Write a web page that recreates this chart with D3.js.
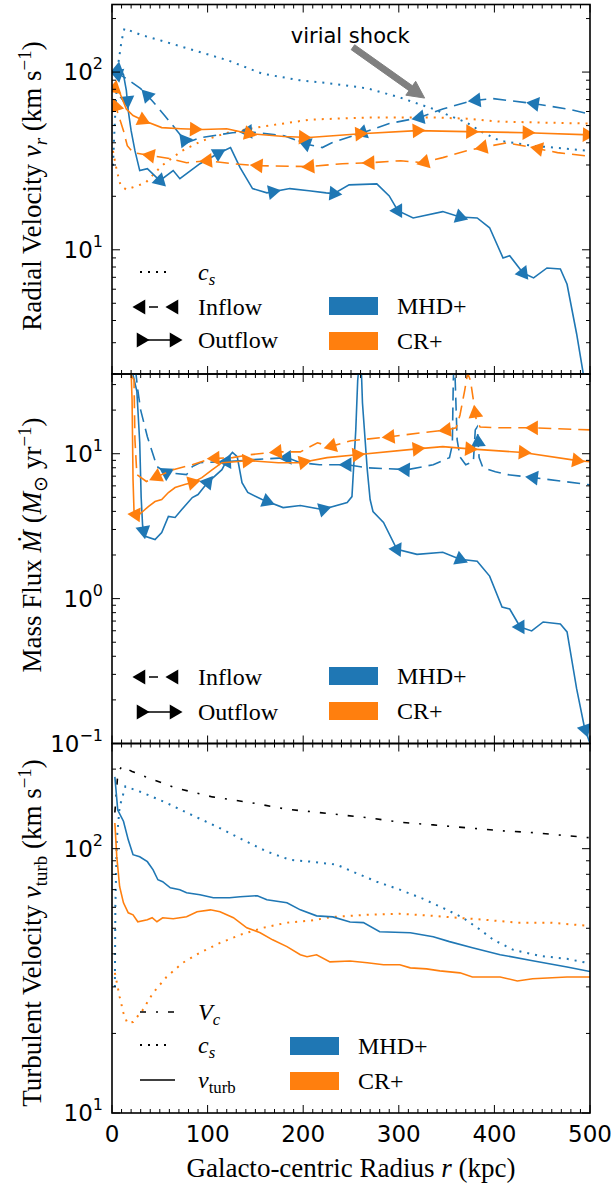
<!DOCTYPE html>
<html><head><meta charset="utf-8">
<script src="https://cdn.jsdelivr.net/npm/d3@7"></script>
<style>body{margin:0;background:#fff}</style>
</head><body><svg id="c" width="616" height="1186" xmlns="http://www.w3.org/2000/svg"></svg>
<script>
// ---------------- DATA ----------------
const X_DOMAIN = [0, 500];
const xTickValues = [0, 100, 200, 300, 400, 500];

// Panel 1: radial velocity (km/s)
const p1_cs_mhd = [[1,29.7],[3,53],[6,106],[10,150],[13,176],[30,162],[52,150],[87,132],[122,116],[157,98],[196,90],[231,86],[267,81],[301,72],[336,62],[371,52],[387,46],[406,41],[440,38.5],[476,37],[500,36]];
const p1_cs_cr = [[1,36],[5,27.9],[9,23],[15,21.8],[35,23.8],[52,29.7],[73,36],[94,41],[121,45.6],[157,49.3],[207,54],[267,55.5],[336,55.5],[371,54.7],[406,52.6],[500,51.3]];
const p1_in_mhd = [[2,99],[10,95.5],[18,89.6],[30,80.7],[42,69],[55,57],[68,46.8],[78,40],[92,42.7],[126,45.6],[142,46.2],[180,43.8],[206,39],[220,37.6],[230,40],[262,45.6],[290,51.3],[322,55.5],[346,62],[377,69],[398,71],[440,66.6],[480,61.5],[500,58]];
const p1_out_mhd = [[3,106],[12,96.8],[15,78.8],[17,60.7],[20,46.8],[24,36.1],[29,27.9],[37,28.6],[50,24.5],[64,27.9],[71,25.1],[92,30.5],[111,34.8],[124,37.6],[134,29],[147,22.1],[162,20.9],[186,22.1],[206,21.5],[224,20.9],[232,20.7],[248,23.2],[277,23.5],[290,20.1],[299,16.6],[315,15.1],[346,16.4],[364,15.3],[382,15.1],[395,13.3],[409,9.0],[416,9.25],[430,7.4],[441,6.95],[455,7.9],[469,7.8],[476,6.4],[486,3.37],[493,2.0],[496,1.7]];
const p1_in_cr = [[2,69],[6,59],[12,46.8],[16,38.5],[22,35.2],[40,33.9],[60,32.6],[78,30.9],[100,31.7],[126,30.5],[155,29.7],[206,29.4],[241,30.5],[270,30.9],[302,31.7],[325,30.9],[346,33],[371,36.1],[387,37.6],[413,40],[440,37.6],[466,35.2],[500,33.6]];
const p1_out_cr = [[2,81.8],[8,76.7],[15,62],[22,56.9],[33,53.4],[52,48.7],[72,48],[95,47.5],[120,48],[144,45],[180,43.4],[206,42.8],[260,45],[319,46.8],[371,46.2],[434,45.6],[500,44.3]];
const p1_mk_out_mhd = [6, 16, 50, 111, 168, 232, 299, 364, 430];
const p1_mk_in_mhd = [6, 37, 76, 142, 203, 262, 322, 381, 442];
const p1_mk_out_cr = [3, 32, 86, 143, 200, 259, 319, 375, 434, 497];
const p1_mk_in_cr = [4, 40, 100, 153, 207, 270, 327, 388, 446];

// Panel 2: mass flux (Msun/yr)
const p2_out_mhd = [[0,60],[20,45],[22,35],[26,27],[29,12],[30.5,5],[32,3.2],[34,2.7],[45,2.56],[52,2.86],[59,3.69],[66,3.63],[73,4.12],[84,4.98],[90,5.23],[100,6.32],[115,7.76],[122,9.53],[126,10.2],[131,9.53],[136,6.32],[142,5.4],[157,4.83],[179,4.25],[197,4.39],[220,4.12],[246,4.61],[251,5.06],[255,14.6],[257,32],[259,45],[261,34.9],[262,22.4],[267,7.76],[270,4.83],[273,3.99],[284,3.36],[298,2.19],[319,2.02],[346,2.09],[364,1.87],[382,1.81],[395,1.43],[408,0.875],[416,0.848],[427,0.637],[439,0.598],[451,0.69],[469,0.668],[476,0.589],[486,0.239],[494,0.131],[500,0.1]];
const p2_in_mhd = [[0,60],[20,50],[25,36],[27,27.5],[30,20],[37,13.1],[47,8.15],[57,7.4],[78,7.17],[84,8.15],[92,8.67],[120,8.81],[148,9.1],[183,9.4],[197,8.67],[217,8.4],[246,8.4],[267,8.0],[309,7.76],[336,8.4],[353,9.4],[356,11.5],[357,32],[358,45],[359,32],[361,12.5],[364,9.5],[370,8.4],[378,8.81],[380,14.6],[382,15.3],[384,9.4],[388,8.0],[401,7.52],[414,7.17],[441,6.84],[500,6.1]];
const p2_out_cr = [[0,60],[19,45],[20,36.6],[21,23.5],[22,6.63],[23,4.05],[26,3.69],[31,3.93],[38,4.32],[45,4.68],[52,4.83],[59,5.4],[66,5.84],[76,6.13],[84,6.32],[94,6.84],[105,7.76],[115,8.67],[129,8.81],[142,8.96],[174,8.67],[197,8.67],[225,9.4],[256,9.84],[319,10.8],[346,11.2],[374,10.8],[430,10.2],[487,8.96],[500,8.81]];
const p2_in_cr = [[0,60],[10,45],[23,32.3],[24,12.5],[26,7.17],[36,6.43],[47,6.95],[64,7.76],[84,8.4],[103,9.25],[126,9.4],[144,9.84],[173,10.3],[197,10.3],[215,11.9],[228,11.2],[250,12.3],[291,13.1],[322,13.9],[350,14.6],[360,15.1],[364,18.5],[369,27.5],[372,36],[375,32],[378,23.5],[381,17.1],[385,15.3],[406,15.1],[441,15.1],[500,14.6]];
const p2_mk_out_mhd = [33, 100, 162, 221, 260, 298, 364, 427, 495];
const p2_mk_in_mhd = [57, 120, 183, 246, 307, 383, 441];
const p2_mk_out_cr = [25, 84, 141, 200, 256, 319, 374, 430, 486];
const p2_mk_in_cr = [47, 108, 173, 230, 291, 350, 380, 441];

// Panel 3: turbulent velocity (km/s)
const p3_vc = [[3,137],[6,191],[10,205],[21,196],[35,187],[66,170],[105,157],[147,149],[183,141],[217,137],[267,131],[301,126],[336,123],[371,120],[406,117],[440,115],[500,110]];
const p3_cs_mhd = [[3,30],[3.5,60],[5,108],[8,144],[14,172],[32,163],[57,149],[78,137],[110,121],[137,108],[162,97.5],[186,90.8],[208,89.3],[235,87],[252,81.8],[277,75],[301,70],[325,64.7],[350,58.8],[367,54.8],[385,49.4],[399,45.2],[420,41.4],[448,39.3],[476,38.3],[500,36.8]];
const p3_cs_cr = [[3,33.9],[8,27.5],[12,23.9],[16,21.9],[22,22.1],[32,24.5],[43,28.5],[57,32.7],[74,37],[92,40.4],[113,44],[134,47.2],[158,50.2],[183,52.5],[207,53.4],[231,55.2],[267,56.2],[301,56.7],[336,55.7],[361,54.8],[388,53.9],[424,52.5],[458,52.5],[500,51]];
const p3_vt_mhd = [[3,187],[6,140],[12,127],[17,108],[22,94.9],[29,93.2],[37,89.3],[43,83.2],[48,76.3],[53,75],[61,71.1],[71,69.9],[78,68.1],[92,66.9],[106,65.2],[123,65.2],[134,65.8],[152,66.4],[162,64.1],[183,62.4],[197,58.7],[214,55.7],[231,55.2],[249,52.8],[263,52.5],[280,48.5],[312,48.1],[336,46.4],[353,44.5],[377,42.2],[406,39.7],[440,37.7],[476,35.7],[500,34.3]];
const p3_vt_cr = [[3,125],[5,93.3],[8,71.8],[12,62.4],[17,57.2],[22,56.2],[27,52.9],[37,53.8],[42,54.8],[47,52.9],[53,54.8],[64,54.3],[78,55.3],[89,57.7],[103,58.7],[113,57.7],[127,54.8],[141,50.2],[155,48.1],[168,45.2],[183,42.6],[197,39.7],[204,39],[214,39.7],[228,37.3],[249,37.6],[267,37],[284,36.4],[301,36.4],[312,35.4],[329,35.1],[343,34.5],[364,33.9],[377,32.7],[406,32.7],[424,31.6],[440,32.2],[476,32.7],[500,32.7]];

// annotation (data coordinates of panel 1)
const shockText = {r: 187, v: 146, label: "virial shock"};
const shockArrow = {r0: 252, v0: 138, r1: 327, v1: 71.4};

// ---------------- LAYOUT ----------------
const C_MHD = "#1f77b4", C_CR = "#ff7f0e";
const SERIF = "'Liberation Serif', 'Times New Roman', serif";
const SANS = "'DejaVu Sans', sans-serif";
const svg = d3.select("#c");
const x = d3.scaleLinear().domain(X_DOMAIN).range([112, 590]);
const panels = [
  {top: 4.5, bot: 374, dom: [2, 240], ticks: [[10,"1"],[100,"2"]]},
  {top: 374, bot: 743.5, dom: [0.1, 35.5], ticks: [[0.1,"\u22121"],[1,"0"],[10,"1"]]},
  {top: 743.5, bot: 1113, dom: [10, 250], ticks: [[10,"1"],[100,"2"]]}
];
panels.forEach(p => { p.y = d3.scaleLog().domain(p.dom).range([p.bot, p.top]); });

const defs = svg.append("defs");
panels.forEach((p, i) => {
  defs.append("clipPath").attr("id", "clip" + i).append("rect")
    .attr("x", x(0)).attr("y", p.top).attr("width", x(500) - x(0)).attr("height", p.bot - p.top);
});

function rich(textSel, parts, size) {
  let off = 0;
  parts.forEach(pt => {
    let target = 0, fs = size;
    if (pt.sub) { target = 0.22 * size; fs = size * 0.7; }
    if (pt.sup) { target = -0.38 * size; fs = size * 0.7; }
    const ts = textSel.append("tspan").text(pt.t).attr("font-size", fs);
    if (target - off !== 0) ts.attr("dy", target - off);
    if (pt.i) ts.attr("font-style", "italic");
    off = target;
  });
}

function drawLine(g, p, data, color, dash, w) {
  const line = d3.line().x(d => x(d[0])).y(d => p.y(d[1]));
  g.append("path").attr("d", line(data)).attr("fill", "none")
    .attr("stroke", color).attr("stroke-width", w || 1.6)
    .attr("stroke-dasharray", dash || null);
}

const tri = d3.symbol().type(d3.symbolTriangle).size(95);
function drawMarkers(g, p, data, marks, color, dir) {
  marks.forEach(rm => {
    let i = 0;
    while (i < data.length - 2 && data[i + 1][0] < rm) i++;
    const a = data[i], b = data[i + 1];
    const x0 = x(a[0]), y0 = p.y(a[1]), x1 = x(b[0]), y1 = p.y(b[1]);
    const t = Math.max(0, Math.min(1, (rm - a[0]) / (b[0] - a[0])));
    const px = x0 + t * (x1 - x0), py = y0 + t * (y1 - y0);
    let ang = Math.atan2(y1 - y0, x1 - x0) * 180 / Math.PI;
    if (dir < 0) ang += 180;
    g.append("path").attr("d", tri()).attr("fill", color)
      .attr("transform", `translate(${px},${py}) rotate(${ang + 90})`);
  });
}

function legendMarker(g, cx, cy, dir) {
  g.append("path").attr("d", tri()).attr("fill", "#000")
    .attr("transform", `translate(${cx},${cy}) rotate(${dir > 0 ? 90 : -90})`);
}

const DASH = "13,7", DOT = "2,6", DASHDOT = "6,10,2,10";

// ---------------- PANELS ----------------
const series = [
  [
    [p1_cs_mhd, C_MHD, DOT, null, 0], [p1_cs_cr, C_CR, DOT, null, 0],
    [p1_in_mhd, C_MHD, DASH, p1_mk_in_mhd, -1], [p1_out_mhd, C_MHD, null, p1_mk_out_mhd, 1],
    [p1_in_cr, C_CR, DASH, p1_mk_in_cr, -1], [p1_out_cr, C_CR, null, p1_mk_out_cr, 1]
  ],
  [
    [p2_in_mhd, C_MHD, DASH, p2_mk_in_mhd, -1], [p2_out_mhd, C_MHD, null, p2_mk_out_mhd, 1],
    [p2_in_cr, C_CR, DASH, p2_mk_in_cr, -1], [p2_out_cr, C_CR, null, p2_mk_out_cr, 1]
  ],
  [
    [p3_vc, "#000", DASHDOT, null, 0],
    [p3_cs_mhd, C_MHD, DOT, null, 0], [p3_cs_cr, C_CR, DOT, null, 0],
    [p3_vt_mhd, C_MHD, null, null, 0], [p3_vt_cr, C_CR, null, null, 0]
  ]
];

panels.forEach((p, pi) => {
  const g = svg.append("g").attr("clip-path", `url(#clip${pi})`);
  series[pi].forEach(s => {
    drawLine(g, p, s[0], s[1], s[2], s[2] === DOT ? 2 : 1.6);
    if (s[3]) drawMarkers(g, p, s[0], s[3], s[1], s[4]);
  });

  // ticks
  const ax = svg.append("g").attr("stroke", "#000").attr("stroke-width", 1);
  for (let r = 0; r <= 500; r += 10) {
    const L = r % 100 === 0 ? 8 : 4, xx = x(r);
    ax.append("line").attr("x1", xx).attr("x2", xx).attr("y1", p.bot).attr("y2", p.bot - L);
    ax.append("line").attr("x1", xx).attr("x2", xx).attr("y1", p.top).attr("y2", p.top + L);
  }
  const e0 = Math.floor(Math.log10(p.dom[0])), e1 = Math.ceil(Math.log10(p.dom[1]));
  for (let e = e0; e <= e1; e++) {
    for (let m = 1; m <= 9; m++) {
      const v = m * Math.pow(10, e);
      if (v < p.dom[0] * 0.999 || v > p.dom[1] * 1.001) continue;
      const L = m === 1 ? 8 : 4, yy = p.y(v);
      ax.append("line").attr("x1", x(0)).attr("x2", x(0) + L).attr("y1", yy).attr("y2", yy);
      ax.append("line").attr("x1", x(500)).attr("x2", x(500) - L).attr("y1", yy).attr("y2", yy);
    }
  }
  // y tick labels
  p.ticks.forEach(([v, ex]) => {
    const t = svg.append("text").attr("x", 103).attr("y", p.y(v) + 8)
      .attr("text-anchor", "end").attr("font-family", SANS).attr("font-size", 23);
    t.append("tspan").text("10");
    t.append("tspan").text(ex).attr("font-size", 16).attr("dy", -11);
  });
  // frame
  svg.append("rect").attr("x", x(0)).attr("y", p.top).attr("width", x(500) - x(0))
    .attr("height", p.bot - p.top).attr("fill", "none").attr("stroke", "#000").attr("stroke-width", 1.6);
});

// x tick labels
xTickValues.forEach(v => {
  svg.append("text").attr("x", x(v)).attr("y", 1142).attr("text-anchor", "middle")
    .attr("font-family", SANS).attr("font-size", 23).text(v);
});
// x label
{
  const t = svg.append("text").attr("x", x(250)).attr("y", 1177).attr("text-anchor", "middle")
    .attr("font-family", SERIF).attr("font-size", 27);
  rich(t, [{t: "Galacto-centric Radius "}, {t: "r", i: 1}, {t: " (kpc)"}], 27);
}
// y labels
const yLabels = [
  [186, [{t: "Radial Velocity "}, {t: "v", i: 1}, {t: "r", i: 1, sub: 1}, {t: " (km s"}, {t: "\u22121", sup: 1}, {t: ")"}]],
  [545, [{t: "Mass Flux "}, {t: "\u1E40", i: 1}, {t: " ("}, {t: "M", i: 1}, {t: "\u2299", sub: 1}, {t: " yr"}, {t: "\u22121", sup: 1}, {t: ")"}]],
  [933, [{t: "Turbulent Velocity "}, {t: "v", i: 1}, {t: "turb", sub: 1}, {t: " (km s"}, {t: "\u22121", sup: 1}, {t: ")"}]]
];
yLabels.forEach(([cy, parts]) => {
  const t = svg.append("text").attr("transform", `translate(41,${cy}) rotate(-90)`)
    .attr("text-anchor", "middle").attr("font-family", SERIF).attr("font-size", 27);
  rich(t, parts, 27);
});

// ---------------- LEGENDS ----------------
const LX0 = 141, LX1 = 174, LTX = 198;
function legText(yb, parts) {
  const t = svg.append("text").attr("x", LTX).attr("y", yb).attr("font-family", SERIF).attr("font-size", 24);
  rich(t, parts, 24);
}
function flowLegend(yIn, yOut) {
  const g = svg.append("g");
  g.append("line").attr("x1", LX0).attr("x2", LX1).attr("y1", yIn).attr("y2", yIn)
    .attr("stroke", "#000").attr("stroke-width", 1.6).attr("stroke-dasharray", "0,8,9,100");
  legendMarker(g, LX0, yIn, -1); legendMarker(g, LX1, yIn, -1);
  g.append("line").attr("x1", LX0).attr("x2", LX1).attr("y1", yOut).attr("y2", yOut)
    .attr("stroke", "#000").attr("stroke-width", 1.6);
  legendMarker(g, LX0, yOut, 1); legendMarker(g, LX1, yOut, 1);
  legText(yIn + 8, [{t: "Inflow"}]);
  legText(yOut + 8, [{t: "Outflow"}]);
}
function simLegend(px, tx, y0, y1) {
  svg.append("rect").attr("x", px).attr("y", y0).attr("width", 49).attr("height", 18).attr("fill", C_MHD);
  svg.append("rect").attr("x", px).attr("y", y1).attr("width", 49).attr("height", 18).attr("fill", C_CR);
  [[y0, "MHD+"], [y1, "CR+"]].forEach(([yy, s]) => {
    svg.append("text").attr("x", tx).attr("y", yy + 17).attr("font-family", SERIF).attr("font-size", 24).text(s);
  });
}
// panel 1
svg.append("line").attr("x1", LX0 - 1).attr("x2", LX1 - 4).attr("y1", 272).attr("y2", 272)
  .attr("stroke", "#000").attr("stroke-width", 2).attr("stroke-dasharray", DOT);
legText(280, [{t: "c", i: 1}, {t: "s", i: 1, sub: 1}]);
flowLegend(307, 340);
simLegend(329, 397, 297, 332);
// panel 2
flowLegend(677, 712);
simLegend(329, 397, 667, 702);
// panel 3
svg.append("line").attr("x1", LX0 - 1).attr("x2", LX1 + 1).attr("y1", 1012).attr("y2", 1012)
  .attr("stroke", "#000").attr("stroke-width", 1.6).attr("stroke-dasharray", DASHDOT);
svg.append("line").attr("x1", LX0 - 1).attr("x2", LX1 - 4).attr("y1", 1045).attr("y2", 1045)
  .attr("stroke", "#000").attr("stroke-width", 2).attr("stroke-dasharray", DOT);
svg.append("line").attr("x1", LX0 - 1).attr("x2", LX1 + 1).attr("y1", 1080).attr("y2", 1080)
  .attr("stroke", "#000").attr("stroke-width", 1.6);
legText(1020, [{t: "V", i: 1}, {t: "c", i: 1, sub: 1}]);
legText(1053, [{t: "c", i: 1}, {t: "s", i: 1, sub: 1}]);
legText(1088, [{t: "v", i: 1}, {t: "turb", sub: 1}]);
simLegend(290, 358, 1037, 1072);

// ---------------- ANNOTATION ----------------
{
  const p = panels[0];
  svg.append("text").attr("x", x(shockText.r)).attr("y", p.y(shockText.v))
    .attr("font-family", SANS).attr("font-size", 21).text(shockText.label);
  const tx = x(shockArrow.r0), ty = p.y(shockArrow.v0), hx = x(shockArrow.r1), hy = p.y(shockArrow.v1);
  const len = Math.hypot(hx - tx, hy - ty), ux = (hx - tx) / len, uy = (hy - ty) / len, nx = -uy, ny = ux;
  const hl = 17, sw = 3, hw = 8.5;
  const bx = hx - ux * hl, by = hy - uy * hl;
  const pts = [[tx + nx * sw, ty + ny * sw], [bx + nx * sw, by + ny * sw], [bx + nx * hw, by + ny * hw], [hx, hy],
    [bx - nx * hw, by - ny * hw], [bx - nx * sw, by - ny * sw], [tx - nx * sw, ty - ny * sw]];
  svg.append("path").attr("d", d3.line()(pts) + "Z").attr("fill", "#808080").attr("stroke", "#808080").attr("stroke-width", 1);
}
</script></body></html>
